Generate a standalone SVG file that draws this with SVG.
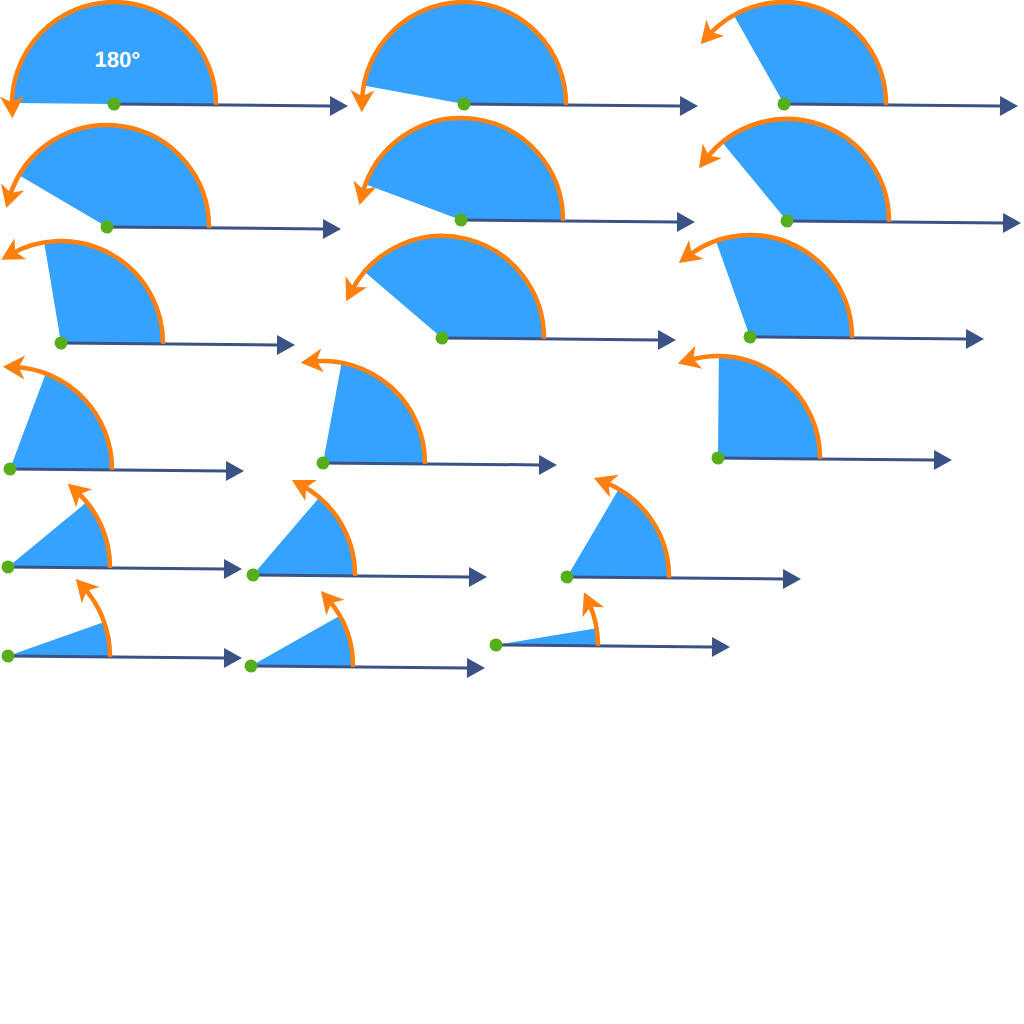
<svg xmlns="http://www.w3.org/2000/svg" width="1024" height="1024" viewBox="0 0 1024 1024">
<style>
.sector{fill:#35a2ff}
.ray{stroke:#3b5287;stroke-width:3;fill:none;marker-end:url(#ray-head)}
.arc{fill:none;stroke:#ff7f0f;stroke-width:4.5;marker-end:url(#arc-head)}
.dot{fill:#56ae1a}
.lbl{fill:#ffffff;font-family:"Liberation Sans",Arial,sans-serif;font-weight:bold;font-size:22px}
</style>
<defs>
<marker id="ray-head" markerUnits="userSpaceOnUse" orient="auto" viewBox="-2 -12 24 24" refX="0" refY="0" markerWidth="24" markerHeight="24">
<path d="M0,-10 L18,0 L0,10 Z" fill="#3b5287"/>
</marker>
<marker id="arc-head" markerUnits="userSpaceOnUse" orient="auto" viewBox="-15 -15 30 30" refX="0" refY="0" markerWidth="30" markerHeight="30">
<path d="M11,0 L-11,-12 L-5,0 L-11,12 Z" fill="#ff7f0f"/>
</marker>
</defs>
<rect width="1024" height="1024" fill="#ffffff"/>

<g id="fig-180" transform="translate(114 104) rotate(0.5)">
<path class="sector" d="M0,0 L102,0 A102,102 0 0 0 -102,0 Z"/>
<line class="ray" x1="0" y1="0" x2="216" y2="0"/>
<path class="arc" d="M102,0 A102,102 0 1 0 -101.92,4.09"/>
<circle class="dot" r="6.5"/>
<text class="lbl" x="3" y="-37" text-anchor="middle">180°</text>
</g>

<g id="fig-170" transform="translate(464 104) rotate(0.5)">
<path class="sector" d="M0,0 L102,0 A102,102 0 0 0 -100.45,-17.71 Z"/>
<line class="ray" x1="0" y1="0" x2="216" y2="0"/>
<path class="arc" d="M102,0 A102,102 0 0 0 -101.98,-1.96"/>
<circle class="dot" r="6.5"/>
</g>

<g id="fig-120" transform="translate(784 104) rotate(0.5)">
<path class="sector" d="M0,0 L102,0 A102,102 0 0 0 -51,-88.33 Z"/>
<line class="ray" x1="0" y1="0" x2="216" y2="0"/>
<path class="arc" d="M102,0 A102,102 0 0 0 -76.63,-67.32"/>
<circle class="dot" r="6.5"/>
</g>

<g id="fig-150" transform="translate(107 227) rotate(0.5)">
<path class="sector" d="M0,0 L102,0 A102,102 0 0 0 -88.33,-51 Z"/>
<line class="ray" x1="0" y1="0" x2="216" y2="0"/>
<path class="arc" d="M102,0 A102,102 0 0 0 -97.90,-28.63"/>
<circle class="dot" r="6.5"/>
</g>

<g id="fig-160" transform="translate(461 220) rotate(0.5)">
<path class="sector" d="M0,0 L102,0 A102,102 0 0 0 -95.85,-34.89 Z"/>
<line class="ray" x1="0" y1="0" x2="216" y2="0"/>
<path class="arc" d="M102,0 A102,102 0 0 0 -98.93,-24.85"/>
<circle class="dot" r="6.5"/>
</g>

<g id="fig-130" transform="translate(787 221) rotate(0.5)">
<path class="sector" d="M0,0 L102,0 A102,102 0 0 0 -65.56,-78.14 Z"/>
<line class="ray" x1="0" y1="0" x2="216" y2="0"/>
<path class="arc" d="M102,0 A102,102 0 0 0 -81.89,-60.81"/>
<circle class="dot" r="6.5"/>
</g>

<g id="fig-100" transform="translate(61 343) rotate(0.5)">
<path class="sector" d="M0,0 L102,0 A102,102 0 0 0 -17.71,-100.45 Z"/>
<line class="ray" x1="0" y1="0" x2="216" y2="0"/>
<path class="arc" d="M102,0 A102,102 0 0 0 -51,-88.33"/>
<circle class="dot" r="6.5"/>
</g>

<g id="fig-140" transform="translate(442 338) rotate(0.5)">
<path class="sector" d="M0,0 L102,0 A102,102 0 0 0 -78.14,-65.56 Z"/>
<line class="ray" x1="0" y1="0" x2="216" y2="0"/>
<path class="arc" d="M102,0 A102,102 0 0 0 -91.21,-45.68"/>
<circle class="dot" r="6.5"/>
</g>

<g id="fig-110" transform="translate(750 337) rotate(0.5)">
<path class="sector" d="M0,0 L102,0 A102,102 0 0 0 -34.89,-95.85 Z"/>
<line class="ray" x1="0" y1="0" x2="216" y2="0"/>
<path class="arc" d="M102,0 A102,102 0 0 0 -63.08,-80.16"/>
<circle class="dot" r="6.5"/>
</g>

<g id="fig-70" transform="translate(10 469) rotate(0.5)">
<path class="sector" d="M0,0 L102,0 A102,102 0 0 0 34.89,-95.85 Z"/>
<line class="ray" x1="0" y1="0" x2="216" y2="0"/>
<path class="arc" d="M102,0 A102,102 0 0 0 2.85,-101.96"/>
<circle class="dot" r="6.5"/>
</g>

<g id="fig-80" transform="translate(323 463) rotate(0.5)">
<path class="sector" d="M0,0 L102,0 A102,102 0 0 0 17.71,-100.45 Z"/>
<line class="ray" x1="0" y1="0" x2="216" y2="0"/>
<path class="arc" d="M102,0 A102,102 0 0 0 -12.25,-101.26"/>
<circle class="dot" r="6.5"/>
</g>

<g id="fig-90" transform="translate(718 458) rotate(0.5)">
<path class="sector" d="M0,0 L102,0 A102,102 0 0 0 0,-102 Z"/>
<line class="ray" x1="0" y1="0" x2="216" y2="0"/>
<path class="arc" d="M102,0 A102,102 0 0 0 -30.50,-97.33"/>
<circle class="dot" r="6.5"/>
</g>

<g id="fig-40" transform="translate(8 567) rotate(0.5)">
<path class="sector" d="M0,0 L102,0 A102,102 0 0 0 78.14,-65.56 Z"/>
<line class="ray" x1="0" y1="0" x2="216" y2="0"/>
<path class="arc" d="M102,0 A102,102 0 0 0 67.32,-76.63"/>
<circle class="dot" r="6.5"/>
</g>

<g id="fig-50" transform="translate(253 575) rotate(0.5)">
<path class="sector" d="M0,0 L102,0 A102,102 0 0 0 65.56,-78.14 Z"/>
<line class="ray" x1="0" y1="0" x2="216" y2="0"/>
<path class="arc" d="M102,0 A102,102 0 0 0 47.73,-90.15"/>
<circle class="dot" r="6.5"/>
</g>

<g id="fig-60" transform="translate(567 577) rotate(0.5)">
<path class="sector" d="M0,0 L102,0 A102,102 0 0 0 51,-88.33 Z"/>
<line class="ray" x1="0" y1="0" x2="216" y2="0"/>
<path class="arc" d="M102,0 A102,102 0 0 0 36.22,-95.35"/>
<circle class="dot" r="6.5"/>
</g>

<g id="fig-20" transform="translate(8 656) rotate(0.5)">
<path class="sector" d="M0,0 L102,0 A102,102 0 0 0 95.85,-34.89 Z"/>
<line class="ray" x1="0" y1="0" x2="216" y2="0"/>
<path class="arc" d="M102,0 A102,102 0 0 0 74.60,-69.56"/>
<circle class="dot" r="6.5"/>
</g>

<g id="fig-30" transform="translate(251 666) rotate(0.5)">
<path class="sector" d="M0,0 L102,0 A102,102 0 0 0 88.33,-51 Z"/>
<line class="ray" x1="0" y1="0" x2="216" y2="0"/>
<path class="arc" d="M102,0 A102,102 0 0 0 76.51,-67.45"/>
<circle class="dot" r="6.5"/>
</g>

<g id="fig-10" transform="translate(496 645) rotate(0.5)">
<path class="sector" d="M0,0 L102,0 A102,102 0 0 0 100.45,-17.71 Z"/>
<line class="ray" x1="0" y1="0" x2="216" y2="0"/>
<path class="arc" d="M102,0 A102,102 0 0 0 92.22,-43.59"/>
<circle class="dot" r="6.5"/>
</g>
</svg>
